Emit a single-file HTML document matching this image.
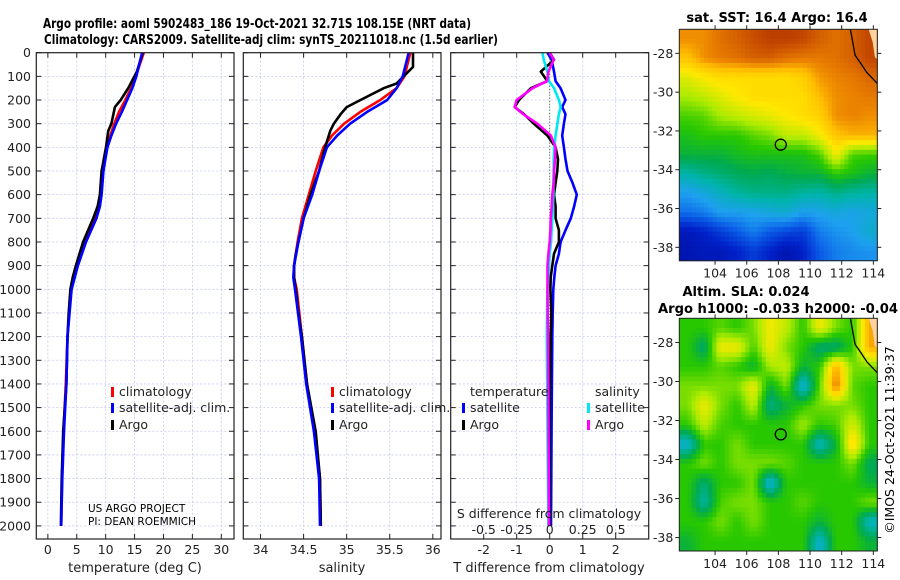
<!DOCTYPE html>
<html><head><meta charset="utf-8"><style>
html,body{margin:0;padding:0;background:#fff;}
svg{display:block;font-family:"DejaVu Sans","Liberation Sans",sans-serif;}
</style></head><body>
<svg id="fig" width="900" height="580" viewBox="0 0 900 580" xmlns="http://www.w3.org/2000/svg">
<rect width="900" height="580" fill="#fff"/>
<text x="43" y="28" font-size="13" font-weight="bold" textLength="428" lengthAdjust="spacingAndGlyphs">Argo profile: aoml 5902483_186 19-Oct-2021 32.71S 108.15E (NRT data)</text>
<text x="44" y="44" font-size="13" font-weight="bold" textLength="454" lengthAdjust="spacingAndGlyphs">Climatology: CARS2009. Satellite-adj clim: synTS_20211018.nc (1.5d earlier)</text>
<g id="p1"></g><g id="p2"></g><g id="p3"></g><g id="m1"></g><g id="m2"></g>
<text x="777" y="22" font-size="13" font-weight="bold" text-anchor="middle">sat. SST: 16.4 Argo: 16.4</text>
<text x="746" y="296" font-size="13" font-weight="bold" text-anchor="middle">Altim. SLA: 0.024</text>
<text x="658" y="313" font-size="13" font-weight="bold" textLength="240" lengthAdjust="spacingAndGlyphs">Argo h1000: -0.033 h2000: -0.04</text>
<text transform="translate(894,440) rotate(-90)" font-size="12.5" text-anchor="middle">©IMOS 24-Oct-2021 11:39:37</text>
<text x="88" y="512" font-size="10.5">US ARGO PROJECT</text>
<text x="88" y="525" font-size="10.5">PI: DEAN ROEMMICH</text>
</svg>
<script>
// ---- profile data ----
const depthT = [0,100,150,200,250,300,350,400,500,600,650,700,800,900,1000,1200,1400,1600,1800,2000];
const tempClim = [16.6,15.2,14.4,13.4,12.3,11.5,10.8,10.2,9.4,9.1,8.7,8.0,6.3,5.0,4.0,3.4,3.1,2.7,2.45,2.3];
const tempSat  = [16.3,15.3,14.6,13.7,12.8,11.8,11.0,10.3,9.6,9.3,9.0,8.4,6.6,5.2,4.1,3.4,3.2,2.8,2.5,2.3];
const depthArgoT = [0,80,150,200,230,300,330,400,500,600,650,700,800,900,950,1000,1100,1200,1400,1600,1800,2000];
const tempArgo = [16.4,15.4,13.9,12.6,11.6,11.0,10.45,10.05,9.3,9.0,8.6,7.85,6.1,4.85,4.3,3.9,3.6,3.4,3.2,2.65,2.4,2.25];

const depthS = [0,100,150,200,250,300,350,400,500,600,700,800,900,950,1000,1200,1400,1600,1800,2000];
const salClim = [35.74,35.67,35.58,35.39,35.16,34.97,34.83,34.73,34.64,34.56,34.48,34.43,34.39,34.39,34.42,34.48,34.54,34.63,34.69,34.70];
const salSat  = [35.72,35.65,35.58,35.47,35.24,35.04,34.89,34.77,34.68,34.60,34.50,34.44,34.39,34.38,34.40,34.47,34.53,34.62,34.68,34.69];
const depthArgoS = [0,60,100,130,150,200,230,260,300,330,400,500,600,700,800,850,900,950,1000,1100,1200,1400,1600,1800,2000];
const salArgo = [35.77,35.77,35.66,35.58,35.43,35.16,35.0,34.93,34.85,34.81,34.75,34.68,34.58,34.5,34.44,34.41,34.39,34.39,34.41,34.44,34.48,34.54,34.64,34.69,34.70];

const depthD = [0,30,80,120,150,200,230,260,300,350,400,450,500,550,600,650,700,750,800,850,900,950,1000,1100,1200,1500,2000];
const tDiffArgo = [0,0.13,-0.27,-0.07,-0.57,-0.93,-1.06,-0.78,-0.48,-0.07,0.18,0.25,0.23,0.18,0.13,0.18,0.18,0.28,0.28,0.13,0.08,0.03,0.02,0.05,0.03,0.0,0.0];
const sDiffArgo = [0,0.03,-0.01,-0.02,-0.13,-0.25,-0.265,-0.2,-0.093,0.008,0.045,0.04,0.033,0.03,0.02,0.015,0.008,0.005,0.0,-0.01,-0.017,-0.017,-0.017,-0.015,-0.013,-0.01,-0.005];
const tDiffSat = [-0.07,0.06,0.13,0.18,0.33,0.48,0.38,0.48,0.43,0.38,0.43,0.48,0.54,0.69,0.82,0.74,0.64,0.48,0.33,0.28,0.18,0.14,0.11,0.09,0.08,0.06,0.04];
const sDiffSat = [-0.055,-0.045,-0.018,-0.005,0.033,0.07,0.083,0.07,0.058,0.045,0.035,0.03,0.03,0.028,0.028,0.024,0.02,0.015,0.01,0.0,-0.005,-0.012,-0.018,-0.02,-0.022,-0.018,-0.01];

const depthTicks = [0,100,200,300,400,500,600,700,800,900,1000,1100,1200,1300,1400,1500,1600,1700,1800,1900,2000];
const tempTicks = [0,5,10,15,20,25,30];
const salTicks = [34,34.5,35,35.5,36];
const tdTicks = [-2,-1,0,1,2];
const sdTicks = [-0.5,-0.25,0,0.25,0.5];
const sdTickLabels = ["-0.5","-0.25","0","0.25","0.5"];

// ---- map data (0-10 colour index, 12 lon cols x 12 lat rows) ----
const mapLonTicks = [104,106,108,110,112,114];
const mapLatTicks = [-28,-30,-32,-34,-36,-38];
const sstRows = [
[8.7,8.7,9,9.2,9.4,9.6,9.6,9.5,9.2,9,9.2,9.5],
[8.2,8.7,8.9,9,9.2,9.2,9,8.9,8.9,9,9.2,9.5],
[7.3,7.6,7.8,7.8,7.8,7.8,7.8,8,8.6,8.8,8.9,9.1],
[6.8,7,7.3,7.6,7.8,7.8,7.8,7.8,8.3,8.7,8.8,8.9],
[6.2,6.3,6.8,7,7.2,7.4,7.6,7.8,8,8.7,8.8,8.7],
[5.8,6,6,6,6.3,6.5,7,7,7.5,8.2,8.4,8.4],
[5.5,5.5,5.5,5.7,5.8,5.8,5.8,5.8,6.2,7.5,6.2,6.1],
[4.5,4.8,5,5.2,5.3,5.2,5.4,5.5,5.5,6,5.8,5.5],
[3.5,3.8,4.2,4.6,4.8,4.8,4.8,4.6,4.5,4.8,4.6,4.5],
[2.8,3,3.5,3.5,3.6,3.8,4,3.5,3.6,3.8,3.6,3.8],
[1.2,1.5,2,2.5,3,2.5,2.2,2,3,3.3,3.5,4],
[1,1.2,1.2,1.5,2,1.5,1,1.5,2.5,3,3.2,3.3]];
const slaRows = [
[6,6,6.3,6,6.5,7.5,7,6,7.5,6.5,6,8.5],
[6,5,7.5,7.5,6.2,7.5,6.5,6,5,5,6,8.5],
[6,6,6.3,6,5.5,6.8,7,5.5,6,8.5,6.5,6.5],
[6.5,6.5,6.5,6.5,7.5,5.5,6.5,3.8,6.3,9,6.3,6],
[6.5,7.5,6.5,6,7,4.8,5.5,6,6.5,6.5,6.5,6],
[6,7,6.2,6,6,6,6,6.8,6,6.2,7.2,6],
[4,6,6,6.5,6,6,6,6,4.2,5.5,8,6],
[6,6.5,6,6.5,6.5,6.5,6.3,6,6,6,6.5,5.2],
[6,5,6,6,6.5,3.8,6,6,6,6,6,5.5],
[6,4.5,6.2,6.5,6.5,6,6,6.3,6,6,6,6.5],
[6,6,6.5,6,6.5,6,6,6,5.5,6,6,4.2],
[5.5,6,6,6,6,6,6,6,4,6,6,5.5]];
const argoLon = 108.15, argoLat = -32.71;
const coastLon = [112.55,112.85,113.15,113.6,114.25];
const coastLat = [-26.76,-28.1,-28.45,-29.0,-29.55];
const landLon = [113.7,113.95,114.1,114.25];
const landLat = [-26.76,-27.4,-28.2,-28.3];

const NS="http://www.w3.org/2000/svg";
function mk(parent,tag,attrs){const e=document.createElementNS(NS,tag);for(const k in attrs)e.setAttribute(k,attrs[k]);parent.appendChild(e);return e;}
const Y0=52.7, YB=539, DPX=0.2366;
const yD = d => Y0 + d*DPX;

function panel(g, x0, x1, xmin, xmax, name){
  const sx = v => x0 + (v-xmin)/(xmax-xmin)*(x1-x0);
  const frame = mk(g,'rect',{x:x0,y:Y0,width:x1-x0,height:YB-Y0,fill:'#fff',stroke:'none'});
  
  
  depthTicks.forEach(d=>{
    const l=mk(g,'line',{x1:x0,x2:x1,y1:yD(d),y2:yD(d),stroke:'#c4c8ec','stroke-width':0.8,'stroke-dasharray':'2,2'});
    
    
    mk(g,'line',{x1:x0,x2:x0+5,y1:yD(d),y2:yD(d),stroke:'#222'});
    mk(g,'line',{x1:x1-5,x2:x1,y1:yD(d),y2:yD(d),stroke:'#222'});
  });
  return sx;
}
function vgrid(g,sx,ticks,name){
  ticks.forEach(t=>{
    const l=mk(g,'line',{x1:sx(t),x2:sx(t),y1:Y0,y2:YB,stroke:'#c4c8ec','stroke-width':0.8,'stroke-dasharray':'2,2'});
    
    
    mk(g,'line',{x1:sx(t),x2:sx(t),y1:Y0,y2:Y0+5,stroke:'#222'});
    mk(g,'line',{x1:sx(t),x2:sx(t),y1:YB-5,y2:YB,stroke:'#222'});
  });
}
function xlabels(g,sx,ticks,labels,y,name){
  ticks.forEach((t,i)=>{
    const tx=mk(g,'text',{x:sx(t),y:y,'font-size':12.5,'text-anchor':'middle',fill:'#222'});
    tx.textContent = labels? labels[i] : String(t);
    
    
  });
}
function line(g,sx,xs,ds,color,w,name){
  const pts = xs.map((v,i)=> sx(v).toFixed(1)+','+yD(ds[i]).toFixed(1)).join(' ');
  const p=mk(g,'polyline',{points:pts,fill:'none',stroke:color,'stroke-width':w,'stroke-linejoin':'round'});
  
  
}
function border(g,x0,x1,name){
  const r=mk(g,'rect',{x:x0,y:Y0,width:x1-x0,height:YB-Y0,fill:'none',stroke:'#222','stroke-width':1.2});
  
  
}
function legendItem(g,x,y,color,label,name){
  mk(g,'rect',{x:x,y:y-9,width:3,height:10,fill:color});
  const t=mk(g,'text',{x:x+8,y:y,'font-size':12.5,fill:'#222'});
  t.textContent=label;
  
  
}

// Panel 1: temperature
const g1=document.getElementById('p1');
const sx1=panel(g1,36.3,234,-2,32.2,'temperature');
vgrid(g1,sx1,tempTicks,'temperature');
depthTicks.forEach(d=>{
  const t=mk(g1,'text',{x:31,y:yD(d)+4.5,'font-size':12.5,'text-anchor':'end',fill:'#222'});
  t.textContent=String(d);
  
  
});
xlabels(g1,sx1,tempTicks,null,554,'temperature');
line(g1,sx1,tempClim,depthT,'#ff0000',2.6,'temp-climatology-line');
line(g1,sx1,tempArgo,depthArgoT,'#000',2.6,'temp-argo-line');
line(g1,sx1,tempSat,depthT,'#0000ff',2.6,'temp-satellite-line');
border(g1,36.3,234,'temperature');
legendItem(g1,111,396,'#ff0000','climatology','temp-legend-climatology');
legendItem(g1,111,412,'#0000ff','satellite-adj. clim.','temp-legend-satellite');
legendItem(g1,111,429,'#000','Argo','temp-legend-argo');
{const t=mk(g1,'text',{x:135,y:572,'font-size':13,'text-anchor':'middle',fill:'#222'});t.textContent='temperature (deg C)';
}

// Panel 2: salinity
const g2=document.getElementById('p2');
const sx2=panel(g2,243.3,441,33.8,36.095,'salinity');
vgrid(g2,sx2,salTicks,'salinity');
xlabels(g2,sx2,salTicks,null,554,'salinity');
line(g2,sx2,salClim,depthS,'#ff0000',2.6,'sal-climatology-line');
line(g2,sx2,salArgo,depthArgoS,'#000',2.6,'sal-argo-line');
line(g2,sx2,salSat,depthS,'#0000ff',2.6,'sal-satellite-line');
border(g2,243.3,441,'salinity');
legendItem(g2,331,396,'#ff0000','climatology','sal-legend-climatology');
legendItem(g2,331,412,'#0000ff','satellite-adj. clim.','sal-legend-satellite');
legendItem(g2,331,429,'#000','Argo','sal-legend-argo');
{const t=mk(g2,'text',{x:342,y:572,'font-size':13,'text-anchor':'middle',fill:'#222'});t.textContent='salinity';
}

// Panel 3: differences
const g3=document.getElementById('p3');
const sx3=panel(g3,450.7,648.7,-3,3,'difference');
const sxS = v => sx3(v*4);
vgrid(g3,sx3,tdTicks,'difference');
mk(g3,'line',{x1:sx3(0),x2:sx3(0),y1:yD(0),y2:yD(2000),stroke:'#3a5a2a','stroke-width':1,'stroke-dasharray':'1,2'});
xlabels(g3,sx3,tdTicks,null,554,'t-difference');
line(g3,sx3,tDiffSat,depthD,'#0000ff',2.6,'tdiff-satellite-line');
line(g3,sx3,tDiffArgo,depthD,'#000',2.6,'tdiff-argo-line');
line(g3,sxS,sDiffSat,depthD,'#00e8f0',2.6,'sdiff-satellite-line');
line(g3,sxS,sDiffArgo,depthD,'#ff00ff',2.6,'sdiff-argo-line');
border(g3,450.7,648.7,'difference');
{const t=mk(g3,'text',{x:470,y:396,'font-size':12.5,fill:'#222'});t.textContent='temperature';
}
{const t=mk(g3,'text',{x:595,y:396,'font-size':12.5,fill:'#222'});t.textContent='salinity';
}
legendItem(g3,462,412,'#0000ff','satellite','tdiff-legend-satellite');
legendItem(g3,462,429,'#000','Argo','tdiff-legend-argo');
legendItem(g3,587,412,'#00e8f0','satellite','sdiff-legend-satellite');
legendItem(g3,587,429,'#ff00ff','Argo','sdiff-legend-argo');
{const t=mk(g3,'text',{x:549,y:518,'font-size':12.5,'text-anchor':'middle',fill:'#222'});t.textContent='S difference from climatology';
}
xlabels(g3,sxS,sdTicks,sdTickLabels,534,'s-difference');
{const t=mk(g3,'text',{x:549,y:572,'font-size':13,'text-anchor':'middle',fill:'#222'});t.textContent='T difference from climatology';
}

// ---- maps ----
const cStops=[[0,[0,0,128]],[1.5,[0,32,200]],[2.5,[10,90,230]],[3.5,[30,160,240]],[4.5,[0,180,170]],[5.3,[0,170,80]],[6.0,[40,200,0]],[6.8,[170,235,0]],[7.6,[255,232,0]],[8.3,[255,190,0]],[8.8,[235,130,0]],[9.5,[195,70,0]],[10,[160,35,0]]];
function cmap(v){
  for(let i=1;i<cStops.length;i++){
    if(v<=cStops[i][0]){const a=cStops[i-1],b=cStops[i];const f=(v-a[0])/(b[0]-a[0]);
      return 'rgb('+a[1].map((c,k)=>Math.round(c+(b[1][k]-c)*f)).join(',')+')';}
  }
  return 'rgb(160,35,0)';
}
const MX0=679.3, MX1=877.3, LON0=101.74, LON1=114.25;
function sample(rows, fx, fy){
  const nr=rows.length, nc=rows[0].length;
  const cx=Math.min(Math.max(fx-0.5,0),nc-1), cy=Math.min(Math.max(fy-0.5,0),nr-1);
  const i0=Math.floor(cx), j0=Math.floor(cy), i1=Math.min(i0+1,nc-1), j1=Math.min(j0+1,nr-1);
  const tx=cx-i0, ty=cy-j0;
  return (rows[j0][i0]*(1-tx)+rows[j0][i1]*tx)*(1-ty)+(rows[j1][i0]*(1-tx)+rows[j1][i1]*tx)*ty;
}
function drawMap(g, y0, y1, rows, name){
  const LAT0=-26.76, LAT1=-38.69;
  const sx = lon => MX0+(lon-LON0)/(LON1-LON0)*(MX1-MX0);
  const sy = lat => y0+(lat-LAT0)/(LAT1-LAT0)*(y1-y0);
  const nr=rows.length, nc=rows[0].length, SUB=4;
  const cw=(MX1-MX0)/(nc*SUB), ch=(y1-y0)/(nr*SUB);
  for(let j=0;j<nr*SUB;j++) for(let i=0;i<nc*SUB;i++){
    const v=sample(rows,(i+0.5)/SUB,(j+0.5)/SUB);
    const r=mk(g,'rect',{x:(MX0+i*cw).toFixed(2),y:(y0+j*ch).toFixed(2),width:(cw+0.5).toFixed(2),height:(ch+0.5).toFixed(2),fill:cmap(v)});
    
    
  }
  const landPts = landLon.map((lo,i)=>sx(lo).toFixed(1)+','+sy(landLat[i]).toFixed(1)).join(' ');
  const land=mk(g,'polygon',{points:landPts+' '+MX1+','+y0,fill:'#ffd2a0'});
  
  
  const coastPts = coastLon.map((lo,i)=>sx(lo).toFixed(1)+','+sy(coastLat[i]).toFixed(1)).join(' ');
  const cl=mk(g,'polyline',{points:coastPts,fill:'none',stroke:'#000','stroke-width':1.3});
  
  
  const c=mk(g,'circle',{cx:sx(argoLon),cy:sy(argoLat),r:5.5,fill:'none',stroke:'#000','stroke-width':1.3});
  
  
  const fr=mk(g,'rect',{x:MX0,y:y0,width:MX1-MX0,height:y1-y0,fill:'none',stroke:'#222','stroke-width':1});
  
  
  mapLatTicks.forEach(la=>{
    mk(g,'line',{x1:MX0-4,x2:MX0,y1:sy(la),y2:sy(la),stroke:'#222'});
    mk(g,'line',{x1:MX1,x2:MX1+4,y1:sy(la),y2:sy(la),stroke:'#222'});
    const t=mk(g,'text',{x:MX0-6,y:sy(la)+4.5,'font-size':12.5,'text-anchor':'end',fill:'#222'});
    t.textContent=String(la);
    
    
  });
  mapLonTicks.forEach(lo=>{
    mk(g,'line',{x1:sx(lo),x2:sx(lo),y1:y1,y2:y1+4,stroke:'#222'});
    mk(g,'line',{x1:sx(lo),x2:sx(lo),y1:y0-4,y2:y0,stroke:'#222'});
    const t=mk(g,'text',{x:sx(lo),y:y1+17,'font-size':12.5,'text-anchor':'middle',fill:'#222'});
    t.textContent=String(lo);
    
    
  });
}
drawMap(document.getElementById('m1'),29.3,260.7,sstRows,'sst-map');
drawMap(document.getElementById('m2'),318.3,551,slaRows,'sla-map');
</script>
</body></html>
